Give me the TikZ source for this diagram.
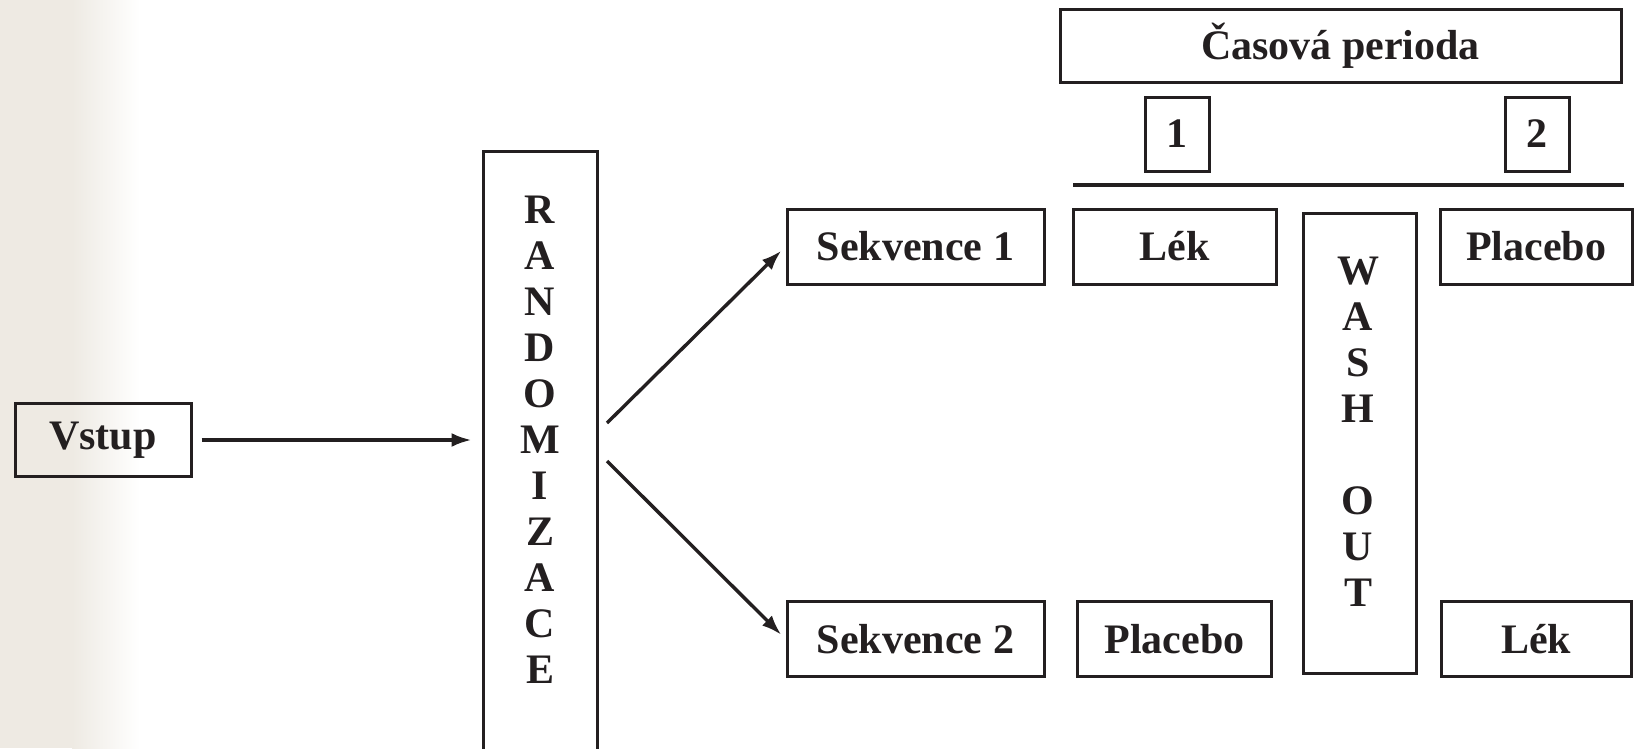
\documentclass[tikz,border=0pt]{standalone}
\usepackage{fontspec}
\setmainfont{Liberation Serif}
\usetikzlibrary{arrows.meta,positioning}

\definecolor{paper}{HTML}{EEEAE3}
\definecolor{ink}{HTML}{231F20}

\tikzset{
  box/.style={draw=ink,line width=3pt,inner sep=0pt,minimum height=75pt},
  letters/.style={align=center},
  link/.style={->,draw=ink,line width=3.4pt}
}

\begin{document}
\begin{tikzpicture}[x=1pt,y=-1pt,>={Latex[length=20pt,width=14pt]},
  text=ink,font=\fontsize{42}{46}\selectfont\bfseries,node distance=392.5pt]
  \clip (0,0) rectangle (1637,748);
  % paper edge on the left
  \fill[paper] (0,0) rectangle (72,748);
  \shade[left color=paper,right color=white] (72,0) rectangle (140,748);

  \node[box,minimum width=176pt,minimum height=73pt] (vstup) at (103,440) {Vstup};
  \node[box,minimum width=114pt,minimum height=620pt,anchor=north] (rand) at (540,150) {};
  \node[letters] (randtext) at (540,440) {R\\A\\N\\D\\O\\M\\I\\Z\\A\\C\\E};

  \node[box,minimum width=257pt] (sek1) at (915.5,246.5) {Sekvence 1};
  \node[box,minimum width=203pt] (lek1) at (1174.5,246.5) {Lék};
  \node[box,minimum width=192pt] (plac1) at (1536,246.5) {Placebo};
  \node[box,minimum width=257pt] (sek2) [below of=sek1] {Sekvence 2};
  \node[box,minimum width=194pt] (plac2) [below of=lek1] {Placebo};
  \node[box,minimum width=190pt] (lek2) [below of=plac1] {Lék};

  \node[box,minimum width=113pt,minimum height=460pt] (wash) at (1360,443) {};
  \node[letters] (washtext) at (1358,432) {W\\A\\S\\H\\[46pt]O\\U\\T};

  % time periods
  \node[box,minimum width=561pt,minimum height=73pt] (period) at (1340.5,45.5) {Časová perioda};
  \node[box,minimum width=64pt,minimum height=74pt] (p1) at (1177,134) {1};
  \node[box,minimum width=64pt,minimum height=74pt] (p2) at (1537,134) {2};
  \draw[draw=ink,line width=3.2pt] (1073,185) -- (1624,185);

  \coordinate (fork1) at (607,423);
  \coordinate (fork2) at (607,461);
  \draw[link,shorten <=9pt,shorten >=10pt] (vstup.east) -- (vstup.east -| rand.west);
  \draw[link,shorten >=6pt] (fork1) -- (sek1.west);
  \draw[link,shorten >=6pt] (fork2) -- (sek2.west);
\end{tikzpicture}
\end{document}
